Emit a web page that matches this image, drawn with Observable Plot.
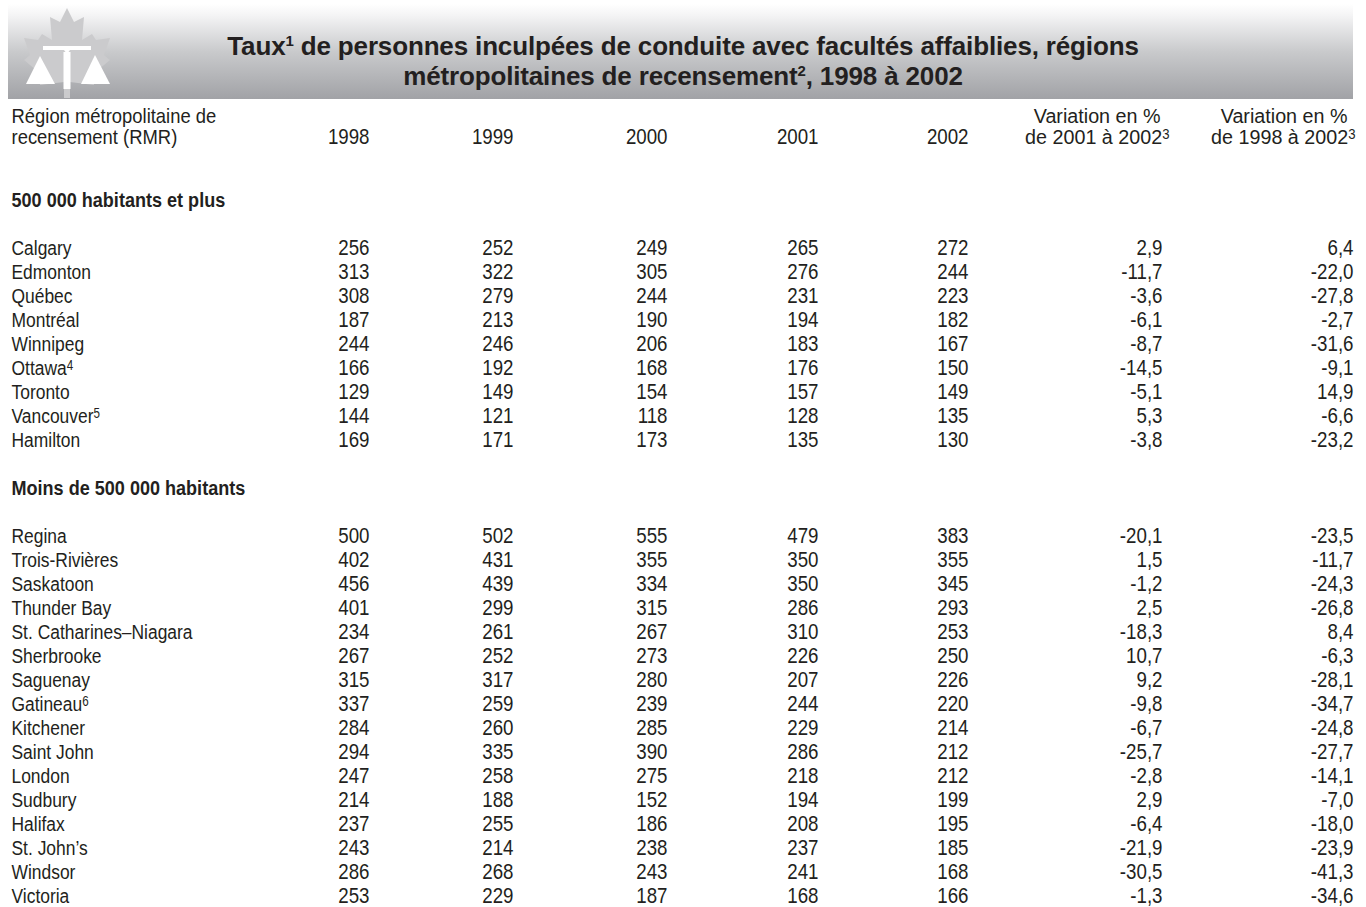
<!DOCTYPE html>
<html><head><meta charset="utf-8">
<script src="https://cdn.jsdelivr.net/npm/d3@7"></script>
<script src="https://cdn.jsdelivr.net/npm/@observablehq/plot@0.6"></script>
<style>
body{margin:0;background:#fff;color:#231f20;}
#banner{position:absolute;left:8px;top:4px;width:1345px;height:95px;background:linear-gradient(to bottom,#ffffff 0%,#f4f4f5 12%,#c9cacc 50%,#a1a2a6 100%);}
#logo{position:absolute;left:0;top:0;}
#title{position:absolute;left:0;top:31px;width:1366px;text-align:center;font-family:"Liberation Sans",Arial,sans-serif;font-weight:bold;font-size:26px;letter-spacing:-0.15px;line-height:30px;color:#231f20;}
#title sup{font-size:15px;line-height:0;vertical-align:baseline;position:relative;top:-9px;}
#chart{position:absolute;left:0;top:100px;}
</style>
</head><body>
<div id="banner"></div>
<svg id="logo" width="130" height="100">
  <polygon fill="#cbcbcd" points="67,8 74,22 84,17 82,40 92,34 96,40 110,38 104,55 110,60 92,75 94,85 70,82 70,98 64,98 64,82 40,85 42,75 24,60 30,55 24,38 38,40 42,34 52,40 50,17 60,22"/>
  <g fill="#ffffff">
    <polygon points="43,46 91,46 91,50 70,50 67,54 64,50 43,50"/>
    <rect x="63.5" y="52" width="7" height="37"/>
    <polygon points="40,56 26,84 55,84"/>
    <polygon points="95,55 81,84 110,84"/>
  </g>
</svg>
<div id="title">Taux<sup>1</sup> de personnes inculpées de conduite avec facultés affaiblies, régions<br>métropolitaines de recensement<sup>2</sup>, 1998 à 2002</div>
<div id="chart"></div>
<script>
// ---------- data ----------
const groups = ["500 000 habitants et plus", "Moins de 500 000 habitants"];
const regions = ["Calgary","Edmonton","Québec","Montréal","Winnipeg","Ottawa⁴","Toronto","Vancouver⁵","Hamilton",
  "Regina","Trois-Rivières","Saskatoon","Thunder Bay","St. Catharines–Niagara","Sherbrooke","Saguenay","Gatineau⁶",
  "Kitchener","Saint John","London","Sudbury","Halifax","St. John’s","Windsor","Victoria"];
const regionGroup = [0,0,0,0,0,0,0,0,0, 1,1,1,1,1,1,1,1,1,1,1,1,1,1,1,1];
const years = ["1998","1999","2000","2001","2002"];
const v1998 = [256,313,308,187,244,166,129,144,169, 500,402,456,401,234,267,315,337,284,294,247,214,237,243,286,253];
const v1999 = [252,322,279,213,246,192,149,121,171, 502,431,439,299,261,252,317,259,260,335,258,188,255,214,268,229];
const v2000 = [249,305,244,190,206,168,154,118,173, 555,355,334,315,267,273,280,239,285,390,275,152,186,238,243,187];
const v2001 = [265,276,231,194,183,176,157,128,135, 479,350,350,286,310,226,207,244,229,286,218,194,208,237,241,168];
const v2002 = [272,244,223,182,167,150,149,135,130, 383,355,345,293,253,250,226,220,214,212,212,199,195,185,168,166];
const var0102 = [2.9,-11.7,-3.6,-6.1,-8.7,-14.5,-5.1,5.3,-3.8, -20.1,1.5,-1.2,2.5,-18.3,10.7,9.2,-9.8,-6.7,-25.7,-2.8,2.9,-6.4,-21.9,-30.5,-1.3];
const var9802 = [6.4,-22.0,-27.8,-2.7,-31.6,-9.1,14.9,-6.6,-23.2, -23.5,-11.7,-24.3,-26.8,8.4,-6.3,-28.1,-34.7,-24.8,-27.7,-14.1,-7.0,-18.0,-23.9,-41.3,-34.6];
const stubHeader = ["Région métropolitaine de", "recensement (RMR)"];
const varHeaders = [["Variation en %", "de 2001 à 2002³"], ["Variation en %", "de 1998 à 2002³"]];

// ---------- layout ----------
const FONT = '"Liberation Sans",Arial,sans-serif';
const INK = "#231f20";
const colRight = {"1998":369,"1999":513,"2000":667,"2001":818,"2002":968,"varA":1162,"varB":1353};
const varHeadRight = [[1160,1169],[1347,1355]];
const stubX = 11;
const yearCols = [v1998, v1999, v2000, v2001, v2002];
const fmt = v => v.toFixed(1).replace(".", ",");

const rowOf = i => regionGroup[i] === 0 ? 2 + i : 14 + (i - 9);
const groupRow = [0, 12];

const cells = [];
regions.forEach((r, i) => {
  years.forEach((y, k) => cells.push({x: colRight[y], row: rowOf(i), text: String(yearCols[k][i])}));
  cells.push({x: colRight.varA, row: rowOf(i), text: fmt(var0102[i])});
  cells.push({x: colRight.varB, row: rowOf(i), text: fmt(var9802[i])});
});
const names = regions.map((r, i) => ({x: stubX, row: rowOf(i), text: r}));
const groupLabels = groups.map((g, i) => ({x: stubX, row: groupRow[i], text: g}));
const headerLeft = stubHeader.map((t, i) => ({x: stubX, row: i === 0 ? -3.5 : -2.625, text: t}));
const headerYears = years.map(y => ({x: colRight[y], row: -2.625, text: y}));
const headerVar = [];
varHeaders.forEach((lines, j) => lines.forEach((t, i) =>
  headerVar.push({x: varHeadRight[j][i], row: i === 0 ? -3.5 : -2.625, text: t})));

const chart = Plot.plot({
  width: 1366, height: 807,
  margin: 0,
  style: {fontFamily: FONT, background: "transparent", overflow: "visible"},
  x: {type: "identity", axis: null},
  y: {type: "linear", domain: [0, 29], range: [100, 796], axis: null},
  marks: [
    Plot.text(headerLeft, {x: "x", y: "row", text: "text", textAnchor: "start", fontSize: 21, fill: INK, fontFamily: FONT}),
    Plot.text(headerYears, {x: "x", y: "row", text: "text", textAnchor: "end", fontSize: 21.5, fill: INK, fontFamily: FONT}),
    Plot.text(headerVar, {x: "x", y: "row", text: "text", textAnchor: "end", fontSize: 21, fill: INK, fontFamily: FONT}),
    Plot.text(groupLabels, {x: "x", y: "row", text: "text", textAnchor: "start", fontSize: 21, fontWeight: "bold", fill: INK, fontFamily: FONT}),
    Plot.text(names, {x: "x", y: "row", text: "text", textAnchor: "start", fontSize: 21, fill: INK, fontFamily: FONT}),
    Plot.text(cells, {x: "x", y: "row", text: "text", textAnchor: "end", fontSize: 21.5, fill: INK, fontFamily: FONT})
  ]
});

// superscript footnote markers as real raised digits
const SUP = {"¹":"1","²":"2","³":"3","⁴":"4","⁵":"5","⁶":"6"};
chart.querySelectorAll("text").forEach(t => {
  const s = t.textContent;
  const m = s.match(/[¹²³⁴⁵⁶]$/);
  if (!m) return;
  t.textContent = s.slice(0, -1);
  const ts = document.createElementNS("http://www.w3.org/2000/svg", "tspan");
  ts.setAttribute("dy", "-0.38em");
  ts.setAttribute("font-size", "14");
  ts.textContent = SUP[m[0]];
  t.appendChild(ts);
});

// condense the glyphs horizontally (reference uses a condensed face)
const squeeze = [0.877, 0.87, 0.94, 0.86, 0.83, 0.87];
chart.querySelectorAll('g[aria-label="text"]').forEach((g, i) => {
  const s = squeeze[i] ?? 0.83;
  g.querySelectorAll("text").forEach(t => {
    const tr = t.getAttribute("transform");
    if (tr) t.setAttribute("transform", `${tr} scale(${s},1)`);
    else {
      const x = +t.getAttribute("x") || 0, y = +t.getAttribute("y") || 0;
      t.removeAttribute("x"); t.removeAttribute("y");
      t.setAttribute("transform", `translate(${x},${y}) scale(${s},1)`);
    }
  });
});
document.getElementById("chart").appendChild(chart);
</script>
</body></html>
